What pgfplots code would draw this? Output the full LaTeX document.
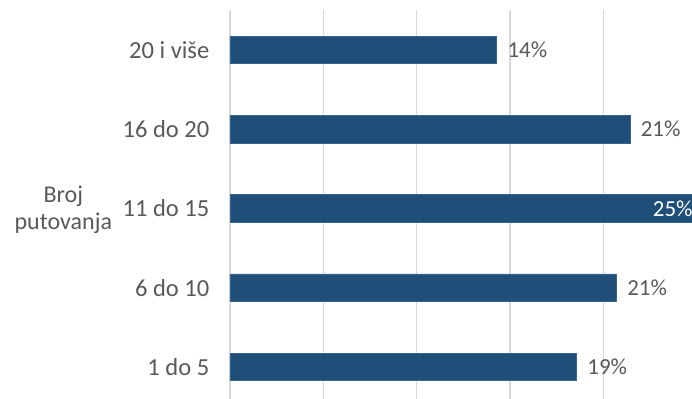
\documentclass[border=0pt]{standalone}
\usepackage{pgfplots}
\pgfplotsset{compat=1.18}
\usepackage{fontspec}
\setmainfont{Carlito}
\definecolor{barblue}{RGB}{31,78,121}
\definecolor{bardraw}{RGB}{55,100,145}
\definecolor{txt}{RGB}{89,89,89}
\definecolor{gridc}{RGB}{217,217,217}
\begin{document}
\begin{tikzpicture}
\begin{axis}[
  at={(172.5pt,0pt)}, anchor=south west,
  scale only axis, width=346.5pt, height=291.45pt,
  clip=false,
  xbar, xmin=0, xmax=24.75, ymin=-0.404, ymax=4.5,
  bar width=0.347,
  ytick={0,1,2,3,4},
  yticklabels={1 do 5, 6 do 10, 11 do 15, 16 do 20, 20 i više},
  xtick={0,5,10,15,20}, xticklabels={},
  xmajorgrids, major grid style={gridc, line width=1.1pt},
  axis line style={draw=none}, major tick length=0pt,
  yticklabel style={font=\fontsize{18.4}{20}\selectfont, text=txt, anchor=east, xshift=-12pt},
  every axis y label/.style={at={(rel axis cs:0,0.5)}, anchor=center, xshift=-125pt, yshift=-4pt,
     align=center, font=\fontsize{18}{20.5}\selectfont, text=txt},
  ylabel={Broj\\putovanja},
]
\addplot[xbar, bar shift=0pt, fill=barblue, draw=bardraw, line width=0.5pt,
  nodes near coords, point meta=explicit symbolic,
  nodes near coords style={font=\fontsize{17.2}{19}\selectfont, text=txt, anchor=west, xshift=4.5pt}]
  table[meta=label] {
x y label
18.57 0 19\%
20.71 1 21\%
21.43 3 21\%
14.29 4 14\%
};
\addplot[xbar, bar shift=0pt, fill=barblue, draw=bardraw, line width=0.5pt,
  nodes near coords, point meta=explicit symbolic,
  nodes near coords style={font=\fontsize{17.2}{19}\selectfont, text=white, anchor=east, xshift=0.5pt}]
  table[meta=label] {
x y label
25.00 2 25\%
};
\end{axis}
\pgfresetboundingbox
\useasboundingbox (0,0) rectangle (519pt,299.25pt);
\end{tikzpicture}
\end{document}
